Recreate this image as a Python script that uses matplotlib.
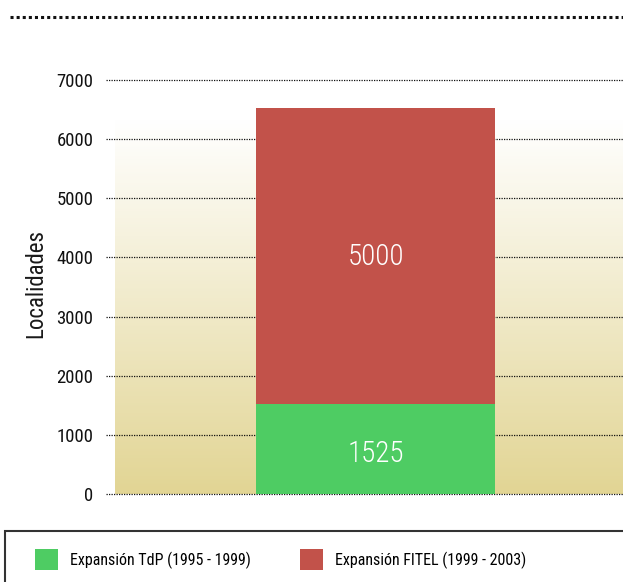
import numpy as np
import matplotlib
matplotlib.use('Agg')
import matplotlib.pyplot as plt
from matplotlib.lines import Line2D
from matplotlib.patches import Rectangle
from matplotlib.colors import to_rgb

plt.rcParams['font.family'] = ['Roboto Condensed', 'Archivo Narrow', 'DejaVu Sans']

# data
series = ['Expansión TdP (1995 - 1999)', 'Expansión FITEL (1999 - 2003)']
values = [1525, 5000]
colors = ['#4ECC63', '#C2524A']
yticks = [0, 1000, 2000, 3000, 4000, 5000, 6000, 7000]

W, H = 623, 582
fig = plt.figure(figsize=(W / 100, H / 100), dpi=100)

# axes: x from 106px to right edge, y 0 at 494px, 7000 at 80px
ymin, ymax = -100, 7100
ppu = 414 / 7000
ax_bottom = H - (494 + 100 * ppu)
ax_height = (ymax - ymin) * ppu
ax = fig.add_axes([106 / W, ax_bottom / H, 517 / W, ax_height / H])

bw = 0.8
xppu = 239 / bw
xl = -bw / 2 - 150 / xppu
xr = xl + 517 / xppu
ax.set_xlim(xl, xr)
ax.set_ylim(ymin, ymax)

# gradient background
c0 = np.array(to_rgb('#E2D594'))
c1 = np.array([1.0, 1.0, 1.0])
t = np.linspace(0, 1, 256)[:, None]
grad = (c0 * (1 - t) + c1 * t)[:, None, :]
ax.imshow(grad, extent=[xl + 9 / xppu, xr, 0, 6320], origin='lower',
          aspect='auto', zorder=0, interpolation='bicubic')

for y in yticks:
    ax.axhline(y, color='#111111', lw=0.9, ls=(0, (1, 1)), zorder=1)

bottom = 0
handles = []
for v, c, lab in zip(values, colors, series):
    b = ax.bar(0, v, bw, bottom=bottom, color=c, label=lab, zorder=2)
    handles.append(b)
    off = -0.06 * v if v < 2000 else -20
    ax.text(0, bottom + v / 2 + off, str(v), ha='center', va='center',
            color='white', fontsize=21, fontweight='light', zorder=3)
    bottom += v

ax.set_xticks([])
ax.set_yticks(yticks)
ax.tick_params(axis='y', length=0, pad=9, labelsize=13.5, colors='#111111')
for s in ax.spines.values():
    s.set_visible(False)
ax.set_ylabel('Localidades', fontsize=16.5, fontweight='normal', color='#1a1a1a')
ax.yaxis.set_label_coords(-0.114, 0.508)

# top dotted rule
fig.add_artist(Line2D([10 / W, 1.0], [(H - 17) / H] * 2, color='#111111',
                      lw=2.2, ls=(0, (1, 1))))

# legend box
fig.add_artist(Rectangle((5 / W, -0.1), 1.2, (H - 531) / H + 0.1,
                         transform=fig.transFigure, fill=False,
                         edgecolor='#333333', lw=1.5))
fig.legend(handles=handles, labels=series, ncol=2, loc='center left',
           bbox_to_anchor=(35 / W, 22.5 / H), frameon=False, fontsize=11.5,
           borderpad=0, borderaxespad=0, handlelength=1.44, handleheight=1.68,
           handletextpad=0.75, columnspacing=3.05)

fig.savefig('out.png', dpi=100)
